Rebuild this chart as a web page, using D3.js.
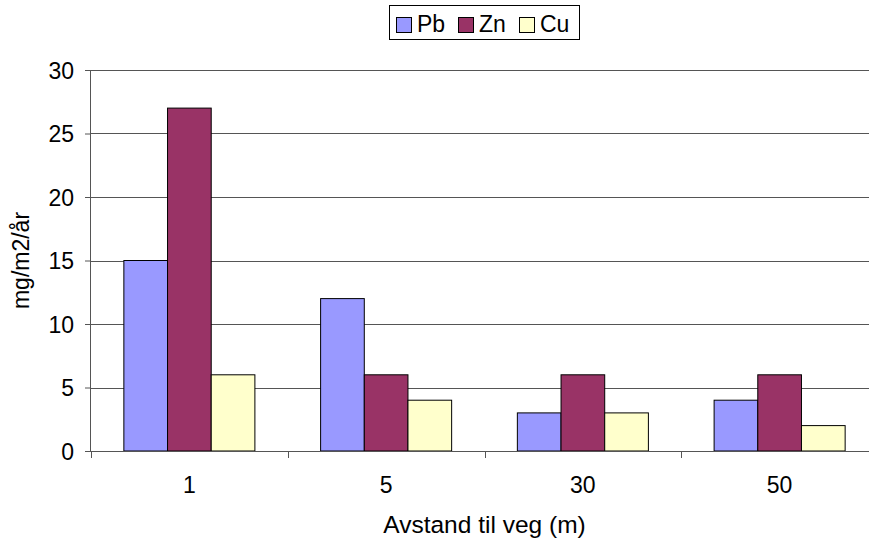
<!DOCTYPE html>
<html><head><meta charset="utf-8">
<script src="https://cdn.jsdelivr.net/npm/d3@7"></script>
<style>body{margin:0;background:#fff}svg{display:block}text{font-family:"Liberation Sans",Arial,sans-serif;fill:#000}</style>
</head><body><svg id="c" width="869" height="542"></svg>
<script>
const categories = ["1","5","30","50"];
const seriesNames = ["Pb","Zn","Cu"];
const pb = [15,12,3,4];
const zn = [27,6,6,6];
const cu = [6,4,3,2];
const yTicks = [0,5,10,15,20,25,30];
const colors = ["#9999FF","#993366","#FFFFCC"];
const series = [pb,zn,cu];
const FONT = "Liberation Sans, Arial, sans-serif";

const svg = d3.select("#c");
const L=91,R=878,T=70,B=451;
const x = d3.scaleBand().domain(categories).range([L,R]).padding(0);
const bw = x.bandwidth();
const inner = d3.scaleBand().domain(seriesNames).range([bw*0.167,bw*0.833]).padding(0);
const y = d3.scaleLinear().domain([0,30]).range([B,T]);

// gridlines
svg.append("g").selectAll("line").data(yTicks.filter(d=>d>0)).join("line")
 .attr("x1",L).attr("x2",R).attr("y1",d=>Math.round(y(d))+0.5).attr("y2",d=>Math.round(y(d))+0.5)
 .attr("stroke","#555").attr("stroke-width",1);

// bars
const g = svg.append("g");
categories.forEach((c,i)=>{
  seriesNames.forEach((s,j)=>{
    g.append("rect").attr("x",x(c)+inner(s)).attr("y",y(series[j][i]))
     .attr("width",inner.bandwidth()).attr("height",y(0)-y(series[j][i]))
     .attr("fill",colors[j]).attr("stroke","#000").attr("stroke-width",1);
  });
});

// y axis
const ya = svg.append("g").attr("transform",`translate(${L},0)`)
 .call(d3.axisLeft(y).tickValues(yTicks).tickSize(6).tickPadding(11));
ya.select(".domain").attr("stroke","#555").attr("d",`M-0.5,${T}V${B}`);
ya.selectAll(".tick line").attr("stroke","#555");
ya.selectAll("text").attr("font-size",23).attr("font-family",FONT).attr("dy","0.36em");

// x axis
const xa = svg.append("g").attr("transform",`translate(0,${B})`)
 .call(d3.axisBottom(x).tickSize(0).tickPadding(26));
xa.select(".domain").attr("stroke","#555").attr("d",`M${L},0.5H${R}`);
xa.selectAll("text").attr("font-size",23).attr("font-family",FONT);
// category boundary ticks
svg.append("g").selectAll("line").data(categories.concat(["_end"])).join("line")
 .attr("x1",(d,i)=>Math.round(L+i*bw)+0.5).attr("x2",(d,i)=>Math.round(L+i*bw)+0.5)
 .attr("y1",B).attr("y2",B+7).attr("stroke","#555");

// axis titles
svg.append("text").attr("x",(L+R)/2).attr("y",533).attr("text-anchor","middle")
 .attr("font-size",24.5).text("Avstand til veg (m)");
svg.append("text").attr("transform",`translate(29,${(T+B)/2}) rotate(-90)`).attr("text-anchor","middle")
 .attr("font-size",23).text("mg/m2/år");

// legend
const lg = svg.append("g");
lg.append("rect").attr("x",389.5).attr("y",5.5).attr("width",190).attr("height",34)
 .attr("fill","#fff").attr("stroke","#000");
const lx = [396,458,519];
seriesNames.forEach((s,j)=>{
  lg.append("rect").attr("x",lx[j]+0.5).attr("y",17.5).attr("width",15).attr("height",15)
   .attr("fill",colors[j]).attr("stroke","#000");
  lg.append("text").attr("x",lx[j]+21).attr("y",32).attr("font-size",23).text(s);
});
</script></body></html>
